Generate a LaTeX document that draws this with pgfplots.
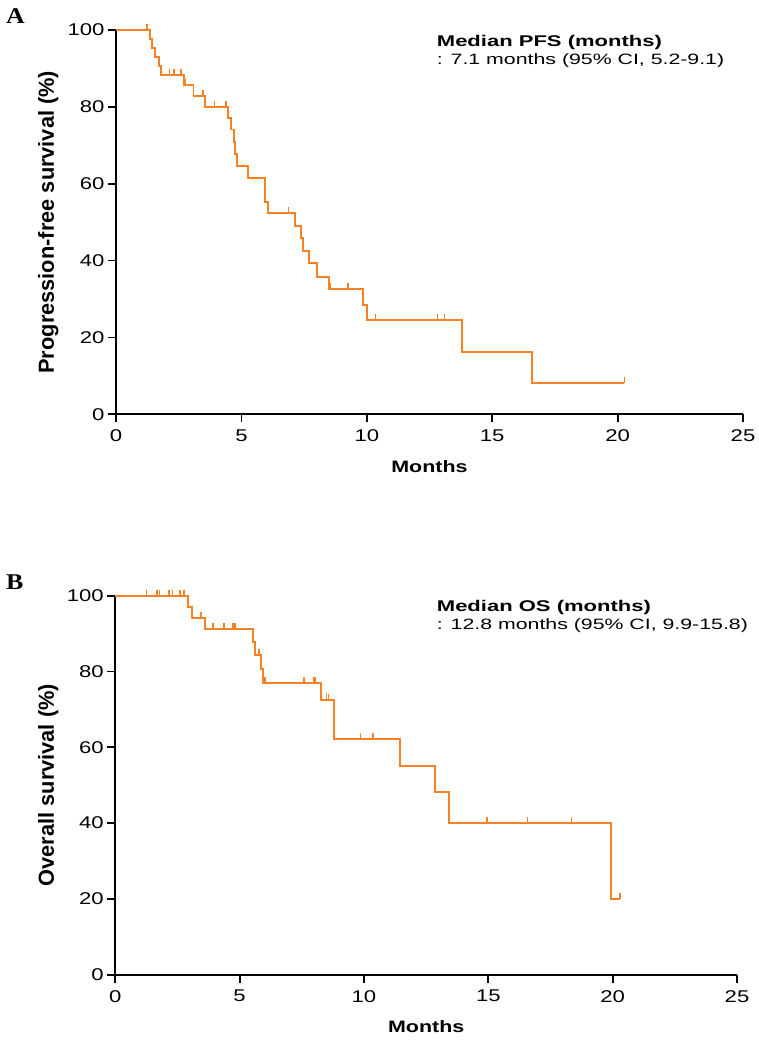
\documentclass[border=0pt]{standalone}
\usepackage{fontspec}
\setmainfont{Liberation Sans}[FakeStretch=1.3]
\newfontfamily\labfont{Liberation Sans}
\newfontfamily\notefont{Liberation Sans}[FakeStretch=1.42]
\newfontfamily\panelfont{Liberation Serif}[FakeStretch=1.15]
\usepackage{pgfplots}
\pgfplotsset{compat=1.18}
\definecolor{kmorange}{RGB}{247,130,38}

\pgfplotsset{
  kmaxis/.style={
    scale only axis,
    xmin=0, xmax=25, ymin=0, ymax=100,
    axis x line=bottom, axis y line=left,
    axis line style={-, line width=1.8pt, black},
    tick align=outside,
    major tick length=8pt,
    tick style={line width=1.8pt, black},
    xtick={0,5,...,25}, ytick={0,20,...,100},
    ticklabel style={font=\fontsize{17}{20}\selectfont},
    xticklabel style={yshift=-4pt},
    /pgf/number format/assume math mode=true,
    clip=false,
    xlabel={Months},
    xlabel style={font=\bfseries\fontsize{16.5}{19}\selectfont,
      at={(axis description cs:0.5,-0.137)}, anchor=center},
    ylabel style={font=\labfont\bfseries\fontsize{21.8}{25}\selectfont,
      at={(axis description cs:-0.108,0.5)}, anchor=center},
  },
  km/.style={const plot, mark=none, color=kmorange, line width=1.9pt},
  cens/.style={only marks, mark=|, mark size=3pt, color=kmorange,
    mark options={yshift=3pt, line width=1.5pt}},
}

\begin{document}
\begin{tikzpicture}
  \useasboundingbox (0,0) rectangle (759pt,-1046pt);

  % panel A: progression-free survival
  \node[anchor=base west, inner sep=0pt, font=\panelfont\bfseries\fontsize{22.5}{26}\selectfont]
    at (6pt,-23.3pt) {A};
  \begin{axis}[kmaxis,
      at={(116pt,-414.3pt)}, anchor=south west,
      width=627pt, height=384.3pt,
      ylabel={Progression-free survival (\%)}]
    \addplot[km] coordinates {
      (0,100)(1.36,97.6)(1.42,95.3)(1.57,93.0)(1.70,90.7)(1.80,88.3)
      (2.71,85.7)(3.09,82.8)(3.56,80.0)(4.45,77.0)(4.59,74.1)(4.71,70.9)
      (4.76,67.7)(4.81,64.6)(5.25,61.6)(5.94,55.3)(6.05,52.3)(7.12,49.0)
      (7.36,45.8)(7.46,42.6)(7.68,39.3)(8.03,35.8)(8.49,32.7)(9.86,28.5)
      (10.00,24.5)(13.81,16.3)(16.57,8.2)(20.27,8.2)};
    \addplot[cens] coordinates {
      (1.24,100)(2.14,88.3)(2.31,88.3)(2.59,88.3)(2.76,85.7)(3.46,82.8)
      (3.92,80.0)(4.39,80.0)(6.87,52.3)(8.53,32.7)(9.25,32.7)(10.35,24.5)
      (12.81,24.5)(13.10,24.5)(20.27,8.2)};
    \node[anchor=base west, inner sep=0pt, font=\notefont\bfseries\fontsize{15.5}{18}\selectfont]
      at (rel axis cs:0.5115,0.958) {Median PFS (months)};
    \node[anchor=base west, inner sep=0pt, font=\notefont\fontsize{15}{18}\selectfont]
      at (rel axis cs:0.5115,0.9115) {: 7.1 months (95\% CI, 5.2-9.1)};
  \end{axis}

  % panel B: overall survival
  \node[anchor=base west, inner sep=0pt, font=\panelfont\bfseries\fontsize{22.5}{26}\selectfont]
    at (6pt,-589pt) {B};
  \begin{axis}[kmaxis,
      at={(115.3pt,-974.7pt)}, anchor=south west,
      width=621.7pt, height=379pt,
      ylabel={Overall survival (\%)}]
    \addplot[km] coordinates {
      (0,100)(2.92,97.1)(3.08,94.2)(3.59,91.2)(5.55,87.9)(5.62,84.4)
      (5.85,80.7)(5.95,77.0)(8.26,72.5)(8.81,62.1)(11.44,55.1)(12.87,48.3)
      (13.41,40.1)(19.92,20.0)(20.29,20.0)};
    \addplot[cens] coordinates {
      (1.26,100)(1.66,100)(1.70,100)(1.77,100)(2.16,100)(2.31,100)
      (2.61,100)(2.77,100)(3.45,94.2)(3.92,91.2)(4.38,91.2)(4.73,91.2)
      (4.81,91.2)(5.77,84.4)(6.01,77.0)(7.58,77.0)(7.98,77.0)(8.03,77.0)
      (8.50,72.5)(8.58,72.5)(9.87,62.1)(10.37,62.1)(14.95,40.1)(16.58,40.1)
      (18.35,40.1)(20.29,20.0)};
    \node[anchor=base west, inner sep=0pt, font=\notefont\bfseries\fontsize{15.5}{18}\selectfont]
      at (rel axis cs:0.517,0.958) {Median OS (months)};
    \node[anchor=base west, inner sep=0pt, font=\notefont\fontsize{15}{18}\selectfont]
      at (rel axis cs:0.517,0.910) {: 12.8 months (95\% CI, 9.9-15.8)};
  \end{axis}
\end{tikzpicture}
\end{document}
